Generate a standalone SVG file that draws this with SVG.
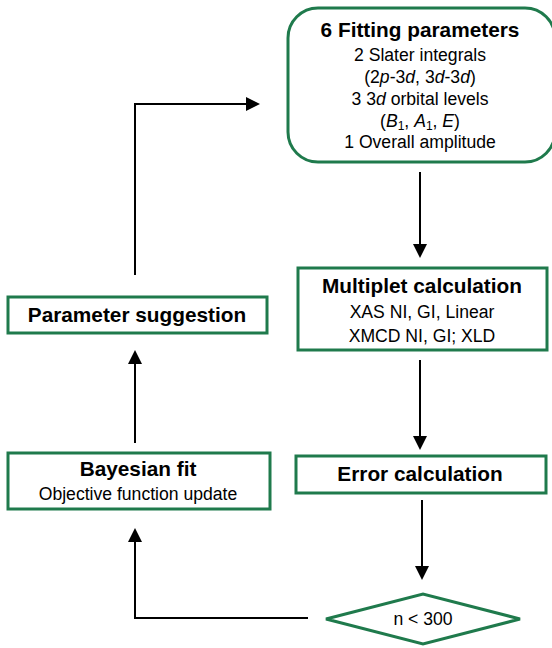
<svg xmlns="http://www.w3.org/2000/svg" width="552" height="648" viewBox="0 0 552 648">
<defs>
<style>
.box{fill:#fff;stroke:#1f7a4c;stroke-width:3}
.t{font-family:"Liberation Sans",Arial,sans-serif;text-anchor:middle;fill:#000}
.b{font-weight:bold;font-size:20.8px}
.n{font-size:17.6px}
.c{fill:none;stroke:#000;stroke-width:2}
</style>
</defs>
<g id="connectors">
<path class="c" d="M420,172 V246"/>
<polygon points="413,244 427,244 420,258" fill="#000"/>
<path class="c" d="M420,360 V438"/>
<polygon points="413,436 427,436 420,450" fill="#000"/>
<path class="c" d="M422,500 V568"/>
<polygon points="415,566 429,566 422,580" fill="#000"/>
<path class="c" d="M308,618 H135 V540"/>
<polygon points="128,542 142,542 135,528" fill="#000"/>
<path class="c" d="M135,443 V362"/>
<polygon points="128,364 142,364 135,350" fill="#000"/>
<path class="c" d="M135,275 V104 H248"/>
<polygon points="246,97 246,111 260,104" fill="#000"/>
</g>
<g id="fitting">
<rect class="box" x="288" y="8" width="267" height="154" rx="30"/>
<text class="t b" x="420" y="37">6 Fitting parameters</text>
<text class="t n" x="420" y="61">2 Slater integrals</text>
<text class="t n" x="420" y="83">(2<tspan font-style="italic">p</tspan>-3<tspan font-style="italic">d</tspan>, 3<tspan font-style="italic">d</tspan>-3<tspan font-style="italic">d</tspan>)</text>
<text class="t n" x="420" y="105">3 3<tspan font-style="italic">d</tspan> orbital levels</text>
<text class="t n" x="420" y="127">(<tspan font-style="italic">B</tspan><tspan font-size="12" dy="3">1</tspan><tspan dy="-3">, </tspan><tspan font-style="italic">A</tspan><tspan font-size="12" dy="3">1</tspan><tspan dy="-3">, </tspan><tspan font-style="italic">E</tspan>)</text>
<text class="t n" x="420" y="148">1 Overall amplitude</text>
</g>
<g id="multiplet">
<rect class="box" x="298" y="268" width="249" height="82"/>
<text class="t b" x="422" y="293">Multiplet calculation</text>
<text class="t n" x="422" y="318">XAS NI, GI, Linear</text>
<text class="t n" x="422" y="342">XMCD NI, GI; XLD</text>
</g>
<g id="error">
<rect class="box" x="296" y="456" width="250" height="37"/>
<text class="t b" x="420" y="481">Error calculation</text>
</g>
<g id="decision">
<polygon class="box" points="326,619 423,594 520,619 423,644"/>
<text class="t n" x="423" y="625">n &lt; 300</text>
</g>
<g id="bayesian">
<rect class="box" x="8" y="453" width="262" height="56"/>
<text class="t b" x="138" y="476">Bayesian fit</text>
<text class="t n" x="138" y="500">Objective function update</text>
</g>
<g id="suggestion">
<rect class="box" x="8" y="297" width="259" height="36"/>
<text class="t b" x="137" y="322">Parameter suggestion</text>
</g>
</svg>
